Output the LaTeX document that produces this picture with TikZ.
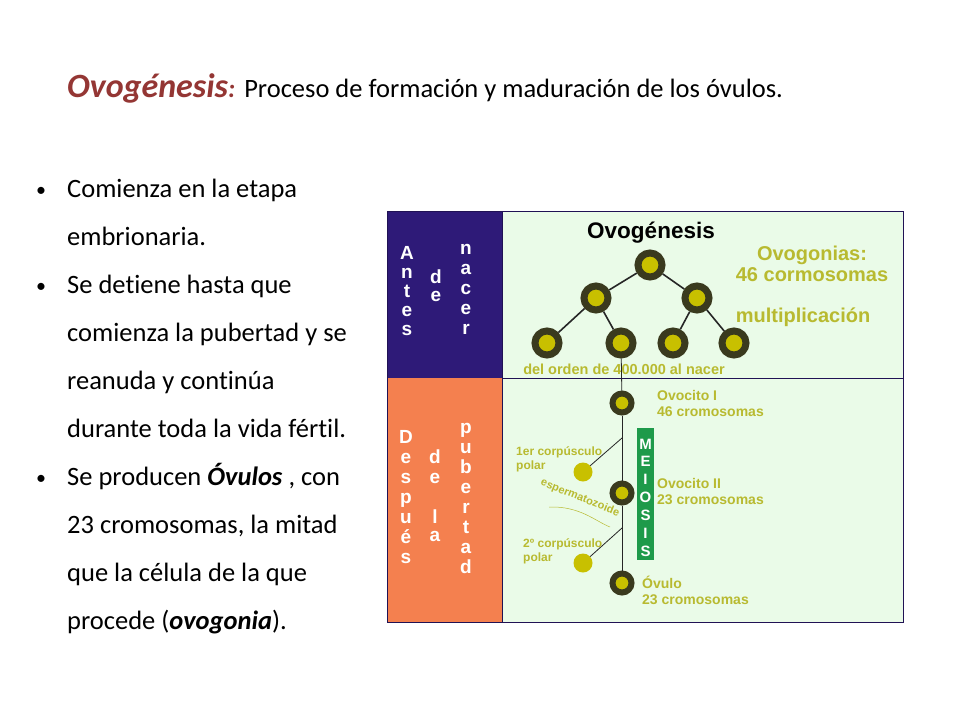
\documentclass[tikz,border=0pt]{standalone}
\usepackage{fontspec}
\setmainfont{Carlito}[Ligatures=NoCommon]
\newfontfamily\arial{Liberation Sans}
\begin{document}
\begin{tikzpicture}[x=1pt,y=-1pt]
\definecolor{dred}{HTML}{943634}
\definecolor{dblue}{HTML}{2E1A78}
\definecolor{orng}{HTML}{F4804F}
\definecolor{lgreen}{HTML}{EAFBE8}
\definecolor{cellout}{HTML}{3A3A1E}
\definecolor{cellin}{HTML}{C8C000}
\definecolor{olive}{HTML}{B8BA30}
\definecolor{mgreen}{HTML}{1E9A4A}
\tikzset{
 bt/.style={anchor=base west,font=\fontsize{26.5}{30}\selectfont,inner sep=0pt},
 lt/.style={font=\arial\bfseries\fontsize{19}{20}\selectfont,text=white,inner sep=0pt,anchor=base},
 lab/.style={font=\arial\bfseries\fontsize{14}{16}\selectfont,text=olive,inner sep=0pt,anchor=west,align=left},
 big/.style={font=\arial\bfseries\fontsize{20}{21}\selectfont,text=olive,inner sep=0pt,align=center},
 cell/.style={circle,draw=cellout,line width=7pt,fill=cellin,minimum size=24pt,inner sep=0pt},
 scell/.style={circle,draw=cellout,line width=6pt,fill=cellin,minimum size=19pt,inner sep=0pt},
 pol/.style={circle,fill=cellin,minimum size=19pt,inner sep=0pt},
 ln/.style={line width=1.6pt,draw=black!85},
 tl/.style={line width=0.8pt,draw=black!85}
}
\fill[white] (0,0) rectangle (960,720);
\node[anchor=base west,inner sep=0pt] (title) at (67,97) {\textcolor{dred}{\fontsize{34}{38}\selectfont\bfseries\itshape Ovogénesis\fontsize{26}{28}\selectfont:}\hspace{6pt} \fontsize{26.5}{30}\selectfont Proceso de formación y maduración de los óvulos.};
% bullets
\foreach \t [count=\i] in {Comienza en la etapa,embrionaria.,Se detiene hasta que,comienza la pubertad y se,reanuda y continúa,durante toda la vida fértil.,{Se producen \textbf{\textit{Óvulos}} , con},{23 cromosomas, la mitad},que la célula de la que,{procede (\textbf{\textit{ovogonia}}).}}
 {\node[bt] (b\i) at (67,{197+48*(\i-1)}) {\t};}
\foreach \i in {1,3,7} \node[anchor=base,inner sep=0pt] (d\i) at (41,{196+48*(\i-1)}) {\fontsize{20}{22}\selectfont •};
% diagram
\fill[lgreen] (387,211) rectangle (903,622);
\fill[dblue] (387,211) rectangle (502,378);
\fill[orng] (387,378) rectangle (502,622);
\draw[dblue!70!black,line width=1pt] (387,211) rectangle (903,622);
\draw[dblue!70!black,line width=1pt] (502,378) -- (903,378);
\draw[dblue!70!black,line width=0.6pt] (502,211) -- (502,622);
% letters
\foreach \c [count=\i] in {A,n,t,e,s} \node[lt] (la\i) at (407,{259+19*(\i-1)}) {\c};
\foreach \c [count=\i] in {d,e} \node[lt] (ld\i) at (436,{283+18*(\i-1)}) {\c};
\foreach \c [count=\i] in {n,a,c,e,r} \node[lt] (ln\i) at (466,{254+20*(\i-1)}) {\c};
\foreach \c [count=\i] in {D,e,s,p,u,é,s} \node[lt] (lD\i) at (406,{443+20*(\i-1)}) {\c};
\node[lt] (lx1) at (435,463) {d};
\node[lt] (lx2) at (435,483) {e};
\node[lt] (lx3) at (435,523) {l};
\node[lt] (lx4) at (435,541) {a};
\foreach \c [count=\i] in {p,u,b,e,r,t,a,d} \node[lt] (lp\i) at (466,{433+20*(\i-1)}) {\c};
% tree
\node[font=\arial\bfseries\fontsize{22.5}{24}\selectfont,inner sep=0pt] (hdr) at (651,233) {Ovogénesis};
\node[cell] (c0) at (650,265) {};
\node[cell] (c1) at (596,298) {};
\node[cell] (c2) at (697,298) {};
\node[cell] (c3) at (547,343) {};
\node[cell] (c4) at (621,343) {};
\node[cell] (c5) at (673,343) {};
\node[cell] (c6) at (734,343) {};
\draw[ln] (c0) -- (c1); \draw[ln] (c0) -- (c2);
\draw[ln] (c1) -- (c3); \draw[ln] (c1) -- (c4);
\draw[ln] (c2) -- (c5); \draw[ln] (c2) -- (c6);
\node[big] (og) at (812,264) {Ovogonias:\\46 cormosomas};
\node[big] (mu) at (803,317) {multiplicación};
\node[lab,anchor=center,font=\arial\bfseries\fontsize{14.5}{16}\selectfont] (orden) at (624,369) {del orden de 400.000 al nacer};
\node[scell] (o1) at (622,403) {};
\node[scell] (o2) at (622,493) {};
\node[scell] (o3) at (622,583) {};
\node[pol] (p1) at (583,472) {};
\node[pol] (p2) at (583,563) {};
\coordinate (j1) at (622,438);
\coordinate (j2) at (622,528);
\draw[tl] (c4) -- (o1);
\draw[tl] (o1) -- (o2);
\draw[tl] (o2) -- (o3);
\draw[tl] (p1) -- (j1);
\draw[tl] (p2) -- (j2);
\node[lab] (t1) at (657,403) {Ovocito I\\46 cromosomas};
\node[lab] (t2) at (657,491) {Ovocito II\\23 cromosomas};
\node[lab] (t3) at (642,590) {Óvulo\\23 cromosomas};
\node[lab,font=\arial\bfseries\fontsize{12}{14}\selectfont] (t4) at (516,459) {1er corpúsculo\\polar};
\node[lab,font=\arial\bfseries\fontsize{12}{14}\selectfont] (t5) at (523,551) {2º corpúsculo\\polar};
\node[lab,font=\arial\bfseries\fontsize{11}{12}\selectfont,rotate=-22,anchor=center] (esp) at (580,498) {espermatozoide};
\draw[olive,line width=0.5pt] (549,507) .. controls (580,506) and (595,521) .. (610,527);
\fill[mgreen] (637,428) rectangle (654,560);
\foreach \c [count=\i] in {M,E,I,O,S,I,S} \node[lt,font=\arial\bfseries\fontsize{15}{16}\selectfont] (m\i) at (645.5,{449+17.9*(\i-1)}) {\c};
\end{tikzpicture}
\end{document}
